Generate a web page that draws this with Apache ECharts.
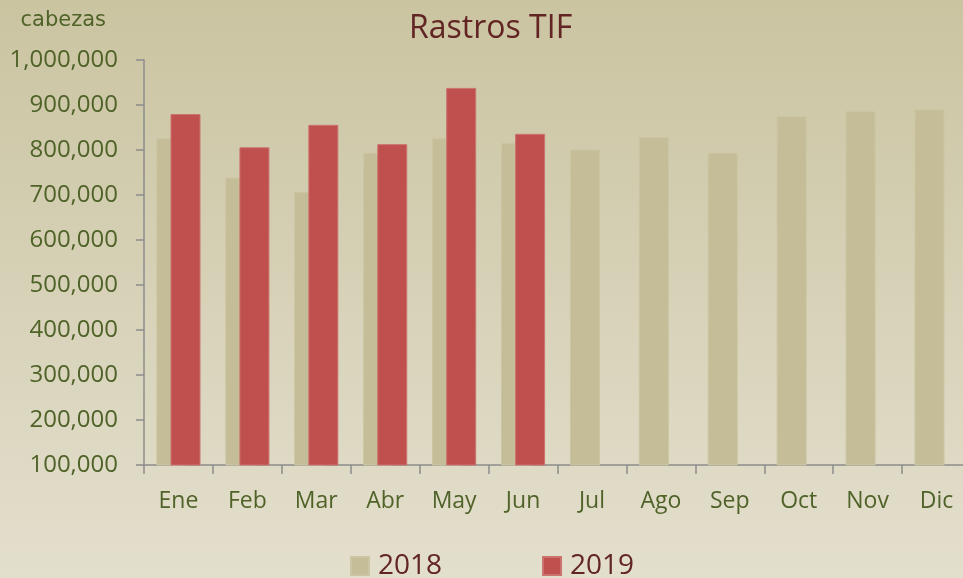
<!DOCTYPE html>
<html>
<head>
<meta charset="utf-8">
<script src="https://cdn.jsdelivr.net/npm/echarts@6/dist/echarts.min.js"></script>
<style>
  html, body { margin: 0; padding: 0; }
  #chart { width: 963px; height: 578px; }
</style>
</head>
<body>
<div id="chart"></div>
<script>
const months = ['Ene', 'Feb', 'Mar', 'Abr', 'May', 'Jun', 'Jul', 'Ago', 'Sep', 'Oct', 'Nov', 'Dic']
const values2018 = [826000, 739000, 707000, 794000, 826000, 816000, 801000, 829000, 794000, 875000, 887000, 890000]
const values2019 = [880000, 806000, 856000, 813000, 938000, 836000, null, null, null, null, null, null]

const green = '#4F6228'
const maroon = '#632523'
const axisGray = '#8C8C8C'

const chart = echarts.init(document.getElementById('chart'))

const option = {
  backgroundColor: new echarts.graphic.LinearGradient(0, 0, 0, 1, [
    { offset: 0, color: '#CAC4A1' },
    { offset: 1, color: '#E3DFCD' }
  ]),
  title: {
    text: 'Rastros TIF',
    left: 404,
    top: 8,
    textStyle: {
      fontFamily: 'Open Sans',
      fontSize: 32,
      fontWeight: 'normal',
      color: maroon
    }
  },
  legend: {
    data: ['2018', '2019'],
    icon: 'rect',
    left: 345,
    top: 547,
    itemWidth: 18,
    itemHeight: 18,
    itemGap: 100,
    textStyle: {
      fontFamily: 'Open Sans',
      fontSize: 28,
      color: maroon,
      padding: [0, 0, 0, 4]
    }
  },
  grid: {
    left: 144,
    top: 60,
    width: 827,
    bottom: 113,
    outerBoundsMode: 'none'
  },
  xAxis: {
    type: 'category',
    data: months,
    axisLine: { lineStyle: { color: axisGray, width: 1.5 } },
    axisTick: { show: true, length: 9, lineStyle: { color: axisGray, width: 1.5 } },
    axisLabel: {
      margin: 25,
      fontFamily: 'Open Sans',
      fontSize: 23,
      color: green
    }
  },
  yAxis: {
    type: 'value',
    name: 'cabezas',
    nameGap: 29,
    nameTextStyle: {
      fontFamily: 'DejaVu Sans',
      fontSize: 21,
      color: green,
      align: 'right',
      padding: [0, 38, 0, 0]
    },
    min: 100000,
    max: 1000000,
    interval: 100000,
    splitLine: { show: false },
    axisLine: { show: true, lineStyle: { color: axisGray, width: 1.5 } },
    axisTick: { show: true, length: 8, lineStyle: { color: axisGray, width: 1.5 } },
    axisLabel: {
      margin: 26,
      fontFamily: 'Open Sans',
      fontSize: 24,
      color: green,
      formatter: v => v.toLocaleString('en-US')
    }
  },
  series: [
    {
      name: '2018',
      type: 'bar',
      data: values2018,
      barWidth: 30,
      barGap: '-53%',
      itemStyle: {
        color: '#C4BD97',
        borderColor: '#CBC5A3',
        borderWidth: 1
      }
    },
    {
      name: '2019',
      type: 'bar',
      data: values2019,
      barWidth: 30,
      itemStyle: {
        color: '#C0504D',
        borderColor: '#CC7370',
        borderWidth: 1
      }
    }
  ]
}

chart.setOption(option)
</script>
</body>
</html>
